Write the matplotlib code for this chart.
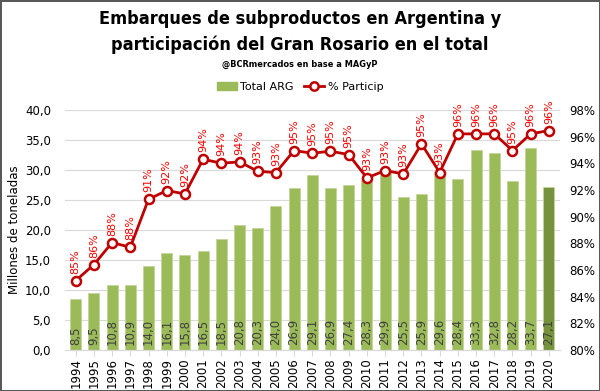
import matplotlib
matplotlib.use("Agg")
import matplotlib.pyplot as plt
from matplotlib.patches import Patch
from matplotlib.lines import Line2D
from matplotlib import font_manager
from matplotlib.font_manager import FontProperties
import numpy as np

years = [str(y) for y in range(1994, 2021)]
total_arg = [8.5, 9.5, 10.8, 10.9, 14.0, 16.1, 15.8, 16.5, 18.5, 20.8, 20.3, 24.0,
             26.9, 29.1, 26.9, 27.4, 28.3, 29.9, 25.5, 25.9, 29.6, 28.4, 33.3, 32.8,
             28.2, 33.7, 27.1]
particip = [85.2, 86.4, 88.05, 87.7, 91.3, 91.95, 91.7, 94.3, 94.0, 94.1, 93.4, 93.3,
            94.95, 94.75, 94.9, 94.65, 92.9, 93.45, 93.2, 95.45, 93.3, 96.2, 96.2, 96.2,
            94.95, 96.2, 96.45]


def _w(e):
    w = e.weight
    if isinstance(w, str):
        return {'bold': 700, 'heavy': 800, 'black': 900, 'semibold': 600,
                'demibold': 600, 'extra bold': 800}.get(w.lower(), 400)
    return int(w)


cands = []
for e in font_manager.fontManager.ttflist:
    n = e.name
    isc = ('Narrow' in n or 'Condensed' in n or 'Cond' in n or
           str(e.stretch) in ('condensed', 'semi-condensed', 'extra-condensed') or
           ('Condensed' in e.fname) or ('Narrow' in e.fname))
    if isc and _w(e) >= 600 and e.style == 'normal':
        cands.append(e)
cands.sort(key=lambda e: (0 if 'Liberation' in e.name else 1, abs(_w(e) - 700)))
if cands:
    title_fp = FontProperties(fname=cands[0].fname, size=13)
    sub_fp = FontProperties(fname=cands[0].fname, size=6.6)
else:
    title_fp = FontProperties(family='DejaVu Sans', weight='bold', size=11.5)
    sub_fp = FontProperties(family='DejaVu Sans', weight='bold', size=6)

plt.rcParams['font.family'] = ['DejaVu Sans']

fig = plt.figure(figsize=(6.0, 3.91), dpi=100)
fig.patch.set_edgecolor('#595959')
fig.patch.set_linewidth(2)
ax = fig.add_axes([0.108, 0.105, 0.825, 0.614])
ax2 = ax.twinx()

x = np.arange(len(years))
colors = ['#9BBB59'] * (len(years) - 1) + ['#76923C']
ax.bar(x, total_arg, width=0.6, color=colors, edgecolor='#C3D69B', linewidth=0.6, zorder=2)
for xi, v in zip(x, total_arg):
    ax.text(xi, 0.9, f"{v:.1f}".replace('.', ','), rotation=90, ha='center', va='bottom',
            fontsize=8.5, color='#404040', zorder=3)

ax.set_ylim(0, 40)
ax.set_yticks(np.arange(0, 40.1, 5))
ax.set_yticklabels([f"{v:.1f}".replace('.', ',') for v in np.arange(0, 40.1, 5)])
ax.set_xlim(-0.6, len(years) - 0.4)
ax.set_xticks(x)
ax.set_xticklabels(years, rotation=90)
ax.grid(axis='y', color='#D9D9D9', linewidth=0.8, zorder=0)
ax.set_axisbelow(True)
ax.set_ylabel("Millones de toneladas", fontsize=8.5, color='black', labelpad=3)
ax.tick_params(axis='y', length=0, labelsize=8.5, colors='black', pad=10)
ax.tick_params(axis='x', length=4, color='#D9D9D9', labelsize=8.5, colors='black', pad=2)

ax2.plot(x, particip, color='#C00000', linewidth=2, marker='o', markersize=6.5,
         markerfacecolor='white', markeredgecolor='#C00000', markeredgewidth=1.8, zorder=4,
         clip_on=False)
for xi, p in zip(x, particip):
    ax2.annotate(f"{round(p):d}%", (xi, p), xytext=(0, 5), textcoords='offset points',
                 rotation=90, ha='center', va='bottom', fontsize=8, color='#FF0000',
                 annotation_clip=False)
ax2.set_ylim(80, 98)
ax2.set_yticks(np.arange(80, 98.1, 2))
ax2.set_yticklabels([f"{int(v)}%" for v in np.arange(80, 98.1, 2)])
ax2.tick_params(axis='y', length=0, labelsize=8.5, colors='black', pad=7)

for a in (ax, ax2):
    for s in ['top', 'left', 'right']:
        a.spines[s].set_visible(False)
    a.spines['bottom'].set_color('#D9D9D9')

fig.text(0.5, 0.918, "Embarques de subproductos en Argentina y\nparticipación del Gran Rosario en el total",
         ha='center', va='center', fontproperties=title_fp, linespacing=1.55)
fig.text(0.5, 0.836, "@BCRmercados en base a MAGyP", ha='center', va='center',
         fontproperties=sub_fp)

handles = [Patch(facecolor='#9BBB59', edgecolor='#9BBB59'),
           Line2D([0], [0], color='#C00000', linewidth=2, marker='o', markersize=6,
                  markerfacecolor='white', markeredgecolor='#C00000', markeredgewidth=1.8)]
fig.legend(handles, ["Total ARG", "% Particip"], loc='center', bbox_to_anchor=(0.5, 0.777),
           ncol=2, frameon=False, fontsize=8, handlelength=1.8, handletextpad=0.3,
           columnspacing=1.0)

fig.savefig("out.png", dpi=100)
